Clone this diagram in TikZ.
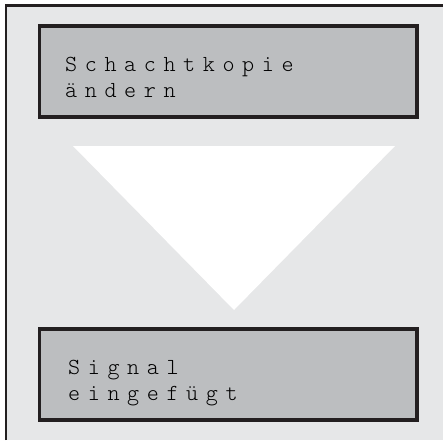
\documentclass[tikz,border=0pt]{standalone}
\usepackage{fontspec}
\usepackage{xcolor}
\usepackage{tikz}
\newfontfamily\panelfont[LetterSpace=33]{lmmonolt10-regular.otf}

\definecolor{framedark}{HTML}{231F20}
\definecolor{panelgray}{HTML}{BCBEC0}
\definecolor{backgray}{HTML}{E6E7E8}

\tikzset{
  panel/.style={draw=framedark, line width=3.5pt, fill=panelgray,
    minimum width=377.5pt, minimum height=91pt, inner sep=0pt},
  paneltext/.style={anchor=base west, inner sep=0pt, align=left,
    font=\fontsize{23}{26}\panelfont}
}

\begin{document}
\begin{tikzpicture}[x=1pt, y=1pt]
\useasboundingbox (0,0) rectangle (443,440);
\fill[backgray] (6,0) rectangle (443,434.5);
\draw[framedark, line width=2.8pt] (6,0) -- (6,434.5) -- (443,434.5);

\node[panel] (top) at (228.25,368.5) {};
\node[panel] (bottom) at (228.25,65.5) {};

% base anchor sits on the last line
\node[paneltext] (toptext) at (65,343) {Schachtkopie\\ändern};
\node[paneltext] (bottomtext) at (68,40) {Signal\\eingefügt};

% arrow between the two panels
\coordinate (tl) at (73,294);
\coordinate (tr) at (395,294);
\coordinate (tip) at (234,130);
\fill[white] (tl) -- (tr) -- (tip) -- cycle;
\end{tikzpicture}
\end{document}
